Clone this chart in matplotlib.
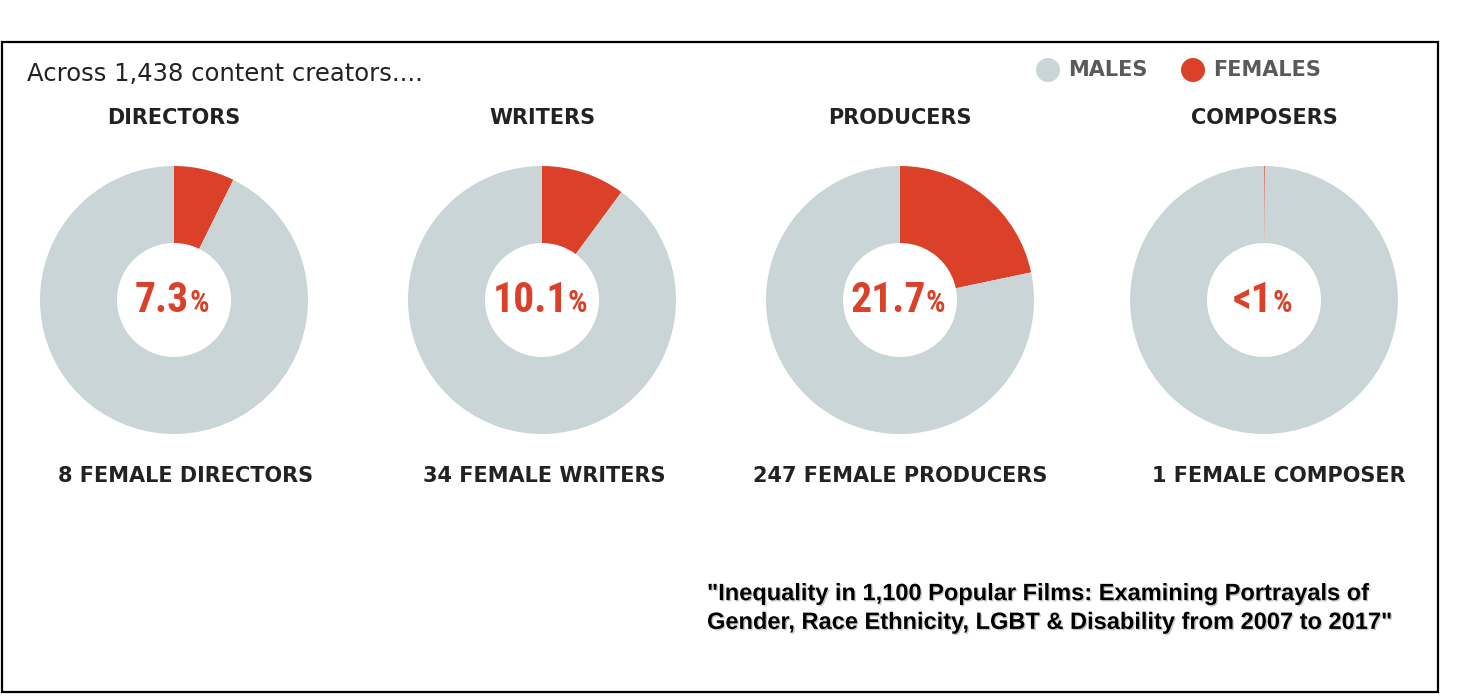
import matplotlib
matplotlib.use("Agg")
import matplotlib.pyplot as plt
from matplotlib import font_manager
from matplotlib.patches import Rectangle, Circle
from matplotlib.offsetbox import TextArea, HPacker, AnnotationBbox
import matplotlib.patheffects as pe

# data
roles = ["DIRECTORS", "WRITERS", "PRODUCERS", "COMPOSERS"]
female_pct = [7.3, 10.1, 21.7, 0.1]
pct_labels = ["7.3", "10.1", "21.7", "<1"]
count_labels = ["8 FEMALE DIRECTORS", "34 FEMALE WRITERS",
                "247 FEMALE PRODUCERS", "1 FEMALE COMPOSER"]
legend_labels = ["MALES", "FEMALES"]

GRAY = "#c9d5d7"
RED = "#da4128"
DARK = "#222222"

W, H = 1480, 696

fonts = font_manager.fontManager.ttflist


def condensed_font():
    # prefer a condensed bold face for the big percentages
    for f in fonts:
        if f.name in ("Liberation Sans Narrow", "Roboto Condensed", "Open Sans Condensed"):
            return dict(family=f.name)
    for f in fonts:
        if f.name == "DejaVu Sans" and "ondensed" in str(f.stretch) + f.fname:
            return dict(family="DejaVu Sans", stretch="condensed")
    return dict(family="Liberation Sans")


pct_font = condensed_font()

fig = plt.figure(figsize=(W / 100, H / 100), dpi=100)
ax = fig.add_axes([0, 0, 1, 1])

# pixel layout helpers (y measured from top)
centers_x = [174, 542, 900, 1264]
count_x = [186, 544, 900, 1279]
cy = H - 300
r_out, ring = 134, 77

for i, role in enumerate(roles):
    cx = centers_x[i]
    ax.pie([female_pct[i], 100 - female_pct[i]], colors=[RED, GRAY],
           startangle=90, counterclock=False, center=(cx, cy), radius=r_out,
           wedgeprops=dict(width=ring, linewidth=0))
    ax.text(cx, H - 118, role, ha="center", va="center", fontsize=15,
            fontweight="bold", color=DARK, family="DejaVu Sans")
    ax.text(count_x[i], H - 476, count_labels[i], ha="center", va="center",
            fontsize=15, fontweight="bold", color=DARK, family="DejaVu Sans")
    num = TextArea(pct_labels[i], textprops=dict(fontsize=30, fontweight="bold",
                   color=RED, **pct_font))
    sign = TextArea("%", textprops=dict(fontsize=22, fontweight="bold",
                    color=RED, **pct_font))
    box = HPacker(children=[num, sign], align="baseline", pad=0, sep=0)
    ax.add_artist(AnnotationBbox(box, (cx - 2, cy), frameon=False,
                                 box_alignment=(0.5, 0.5)))

ax.text(27, H - 74, "Across 1,438 content creators....", ha="left", va="center",
        fontsize=17.5, color=DARK, family="DejaVu Sans")

# legend
for lx, col, lab in zip([1048, 1193], [GRAY, RED], legend_labels):
    ax.add_patch(Circle((lx, H - 70), 12, color=col, lw=0))
    ax.text(lx + 20, H - 70, lab, ha="left", va="center", fontsize=15,
            fontweight="bold", color="#5a5a5a", family="DejaVu Sans")

# source note
src = ('"Inequality in 1,100 Popular Films: Examining Portrayals of\n'
       'Gender, Race Ethnicity, LGBT & Disability from 2007 to 2017"')
ax.text(707, H - 608, src, ha="left", va="center", fontsize=17,
        fontweight="bold", color="black", family="Liberation Sans", linespacing=1.32,
        path_effects=[pe.withSimplePatchShadow(offset=(1, -1), shadow_rgbFace="#999999", alpha=0.5)])

# frame
ax.add_patch(Rectangle((2, H - 692), 1436, 650, fill=False, ec="black", lw=1.6))

ax.set_xlim(0, W)
ax.set_ylim(0, H)
ax.set_aspect("equal")
ax.axis("off")

fig.savefig("out.png", dpi=100, facecolor="white")
